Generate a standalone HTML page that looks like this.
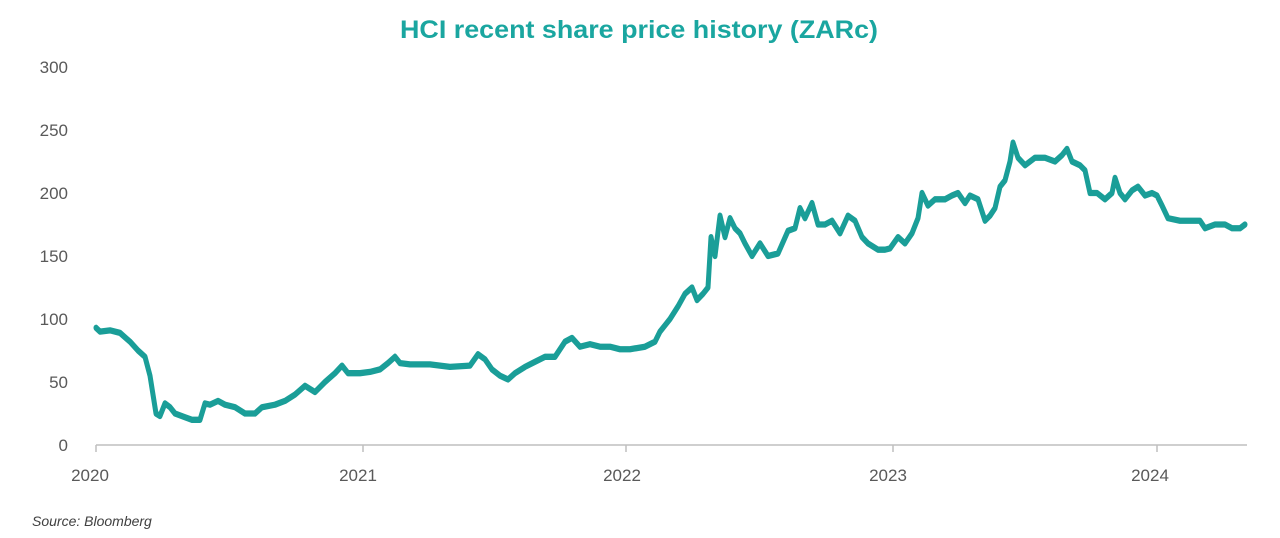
<!DOCTYPE html>
<html><head><meta charset="utf-8"><style>
html,body{margin:0;padding:0;background:#fff;}
svg{display:block;font-family:"Liberation Sans",sans-serif;}
</style></head><body>
<svg width="1280" height="538" viewBox="0 0 1280 538">
<text x="400" y="38" font-size="25" font-weight="bold" fill="#1aa6a0" textLength="478" lengthAdjust="spacingAndGlyphs">HCI recent share price history (ZARc)</text>
<g font-size="17" fill="#595959" text-anchor="end">
<text x="68" y="73">300</text>
<text x="68" y="136">250</text>
<text x="68" y="199">200</text>
<text x="68" y="262">150</text>
<text x="68" y="325">100</text>
<text x="68" y="388">50</text>
<text x="68" y="451">0</text>
</g>
<line x1="96" y1="445" x2="1247" y2="445" stroke="#bfbfbf" stroke-width="1.5"/>
<g stroke="#bfbfbf" stroke-width="1.5">
<line x1="96" y1="445" x2="96" y2="452"/><line x1="363" y1="445" x2="363" y2="452"/><line x1="626" y1="445" x2="626" y2="452"/><line x1="893" y1="445" x2="893" y2="452"/><line x1="1157" y1="445" x2="1157" y2="452"/>
</g>
<g font-size="17" fill="#595959" text-anchor="middle">
<text x="90" y="481">2020</text><text x="358" y="481">2021</text><text x="622" y="481">2022</text><text x="888" y="481">2023</text><text x="1150" y="481">2024</text>
</g>
<text x="32" y="526" font-size="14" font-style="italic" fill="#404040">Source: Bloomberg</text>
<polyline fill="none" stroke="#1a9e98" stroke-width="5" stroke-linejoin="round" stroke-linecap="round" transform="translate(0,445) scale(1,-1.26)" points="
96,93 100,90 110,91 120,89 130,82 138,75 145,70 150,55 153,40 156,25 160,23 165,33 170,30 175,25 185,22 192,20 200,20 205,33 210,32 218,35 225,32 235,30 245,25 255,25 262,30 275,32 285,35 295,40 305,47 315,42 325,50 335,57 342,63 348,57 360,57 370,58 380,60 388,65 395,70 400,65 410,64 430,64 450,62 470,63 478,72 485,68 492,60 500,55 508,52 515,57 525,62 535,66 545,70 555,70 565,82 572,85 580,78 590,80 600,78 610,78 620,76 630,76 645,78 655,82 660,90 665,95 670,100 678,110 685,120 692,125 697,115 703,120 708,125 711,165 715,150 720,182 725,165 730,180 735,172 740,168 745,160 752,150 760,160 768,150 778,152 788,170 795,172 800,188 805,180 812,192 818,175 825,175 832,178 840,168 848,182 855,178 862,165 868,160 878,155 885,155 890,156 898,165 905,160 912,168 918,180 922,200 928,190 935,195 945,195 952,198 958,200 965,192 970,198 978,195 985,178 990,182 995,188 1000,205 1005,210 1010,225 1013,240 1018,228 1025,222 1035,228 1045,228 1055,225 1062,230 1067,235 1072,225 1080,222 1085,218 1090,200 1097,200 1105,195 1112,200 1115,212 1120,200 1125,195 1132,202 1138,205 1145,198 1152,200 1157,198 1162,190 1168,180 1180,178 1190,178 1200,178 1205,172 1215,175 1225,175 1232,172 1240,172 1245,175"/>
</svg>
</body></html>
